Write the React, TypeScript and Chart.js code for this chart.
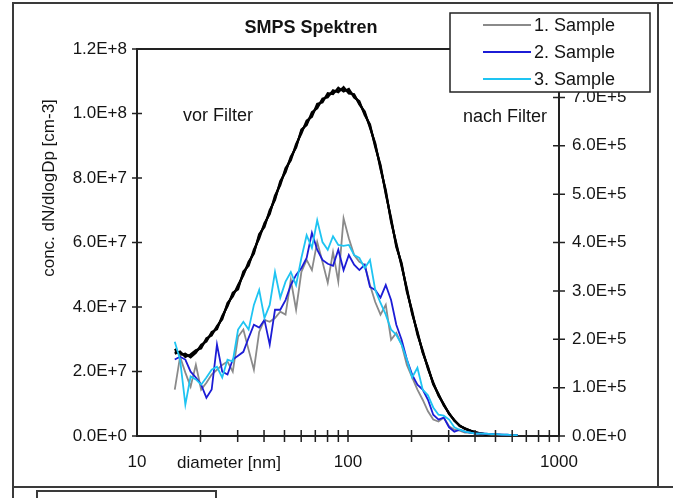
import { useEffect, useRef } from "react";
import { Chart, registerables } from "chart.js";

Chart.register(...registerables);

// ---- data ----
const diameters = [15.1, 16.0, 16.95, 17.95, 19.01, 20.14, 21.33, 22.59, 23.93, 25.35, 26.85, 28.44, 30.13, 31.92, 33.81, 35.81, 37.93, 40.18, 42.56, 45.08, 47.75, 50.58, 53.58, 56.75, 60.12, 63.68, 67.45, 71.45, 75.68, 80.17, 84.92, 89.95, 95.28, 100.9, 106.9, 113.2, 120.0, 127.1, 134.6, 142.6, 151.0, 160.0, 169.4, 179.5, 190.1, 201.4, 213.3, 225.9, 239.3, 253.5, 268.5, 284.4, 301.3, 319.2, 338.1, 358.1, 379.3, 401.8, 425.6, 450.8, 477.5, 505.8, 535.8, 567.5, 601.2, 636.8];

// "vor Filter" (left axis)
const vorFilter1 = [2.61e7, 2.58e7, 2.49e7, 2.49e7, 2.61e7, 2.77e7, 2.98e7, 3.17e7, 3.36e7, 3.67e7, 4.07e7, 4.38e7, 4.62e7, 5.03e7, 5.34e7, 5.71e7, 6.2e7, 6.54e7, 6.94e7, 7.38e7, 7.84e7, 8.24e7, 8.61e7, 8.99e7, 9.45e7, 9.7e7, 9.97e7, 10.22e7, 10.41e7, 10.56e7, 10.66e7, 10.72e7, 10.75e7, 10.69e7, 10.56e7, 10.32e7, 10.01e7, 9.6e7, 9.02e7, 8.34e7, 7.56e7, 6.7e7, 5.92e7, 5.3e7, 4.53e7, 3.82e7, 3.2e7, 2.61e7, 2.12e7, 1.62e7, 1.28e7, 0.97e7, 0.7e7, 0.48e7, 0.32e7, 0.23e7, 0.17e7, 0.11e7, 0.08e7, 0.05e7, 0.03e7, 0.03e7, 0.02e7, 0.01e7, 0.01e7, 0.01e7];
const vorFilter2 = [2.7e7, 2.52e7, 2.55e7, 2.44e7, 2.58e7, 2.83e7, 2.93e7, 3.22e7, 3.31e7, 3.72e7, 4.02e7, 4.44e7, 4.55e7, 5.1e7, 5.28e7, 5.78e7, 6.12e7, 6.6e7, 6.88e7, 7.45e7, 7.78e7, 8.3e7, 8.55e7, 9.05e7, 9.38e7, 9.78e7, 9.9e7, 10.3e7, 10.35e7, 10.63e7, 10.6e7, 10.8e7, 10.68e7, 10.76e7, 10.5e7, 10.38e7, 9.95e7, 9.66e7, 8.96e7, 8.4e7, 7.5e7, 6.76e7, 5.86e7, 5.36e7, 4.47e7, 3.88e7, 3.14e7, 2.66e7, 2.08e7, 1.66e7, 1.25e7, 0.99e7, 0.68e7, 0.5e7, 0.31e7, 0.24e7, 0.16e7, 0.12e7, 0.07e7, 0.05e7, 0.04e7, 0.03e7, 0.02e7, 0.02e7, 0.01e7, 0.01e7];
const vorFilter3 = [2.55e7, 2.62e7, 2.45e7, 2.53e7, 2.66e7, 2.72e7, 3.03e7, 3.12e7, 3.41e7, 3.62e7, 4.12e7, 4.33e7, 4.68e7, 4.98e7, 5.4e7, 5.66e7, 6.26e7, 6.48e7, 7.0e7, 7.32e7, 7.9e7, 8.18e7, 8.66e7, 8.94e7, 9.5e7, 9.64e7, 10.04e7, 10.16e7, 10.46e7, 10.5e7, 10.72e7, 10.66e7, 10.82e7, 10.62e7, 10.6e7, 10.28e7, 10.06e7, 9.56e7, 9.08e7, 8.28e7, 7.62e7, 6.64e7, 5.98e7, 5.26e7, 4.58e7, 3.78e7, 3.24e7, 2.58e7, 2.15e7, 1.6e7, 1.3e7, 0.95e7, 0.71e7, 0.47e7, 0.33e7, 0.22e7, 0.17e7, 0.1e7, 0.08e7, 0.05e7, 0.03e7, 0.02e7, 0.02e7, 0.01e7, 0.01e7, 0];

// "nach Filter" (right axis)
const sample1 = [0.96e5, 1.64e5, 1.31e5, 1.02e5, 1.47e5, 0.96e5, 1.1e5, 1.27e5, 1.37e5, 1.47e5, 1.54e5, 1.33e5, 2.05e5, 2.2e5, 1.78e5, 1.37e5, 2.15e5, 2.4e5, 2.36e5, 2.44e5, 2.57e5, 2.51e5, 3.23e5, 2.61e5, 3.39e5, 3.64e5, 3.43e5, 4.01e5, 3.6e5, 3.17e5, 3.8e5, 3.19e5, 4.5e5, 4.09e5, 3.74e5, 3.6e5, 3.54e5, 3.12e5, 2.77e5, 2.51e5, 2.71e5, 1.99e5, 2.13e5, 1.89e5, 1.47e5, 1.21e5, 0.96e5, 0.75e5, 0.51e5, 0.34e5, 0.3e5, 0.38e5, 0.2e5, 0.13e5, 0.11e5, 0.07e5, 0.07e5, 0.05e5, 0.05e5, 0.04e5, 0.03e5, 0.03e5, 0.03e5, 0.02e5, 0.02e5, 0.01e5];
const sample2 = [1.58e5, 1.64e5, 1.58e5, 1.33e5, 1.21e5, 1.06e5, 0.79e5, 0.96e5, 1.89e5, 1.33e5, 1.27e5, 1.58e5, 1.66e5, 1.74e5, 2.03e5, 2.3e5, 2.24e5, 2.4e5, 1.89e5, 2.61e5, 2.61e5, 2.81e5, 3.12e5, 3.33e5, 3.47e5, 3.68e5, 4.2e5, 3.85e5, 3.64e5, 3.56e5, 3.52e5, 3.85e5, 3.43e5, 3.74e5, 3.54e5, 3.43e5, 3.54e5, 3.08e5, 3.02e5, 2.86e5, 3.12e5, 2.81e5, 2.3e5, 1.99e5, 1.58e5, 1.27e5, 1.06e5, 0.96e5, 0.75e5, 0.44e5, 0.34e5, 0.38e5, 0.18e5, 0.09e5, 0.13e5, 0.09e5, 0.07e5, 0.05e5, 0.05e5, 0.05e5, 0.04e5, 0.04e5, 0.03e5, 0.03e5, 0.02e5, 0.01e5];
const sample3 = [1.95e5, 1.58e5, 0.65e5, 1.23e5, 1.17e5, 1.06e5, 1.21e5, 1.37e5, 1.43e5, 1.21e5, 1.58e5, 1.54e5, 2.2e5, 2.36e5, 2.2e5, 2.71e5, 3.02e5, 2.44e5, 2.71e5, 3.39e5, 2.86e5, 3.19e5, 3.39e5, 3.12e5, 3.68e5, 4.15e5, 3.89e5, 4.46e5, 4.01e5, 3.85e5, 4.13e5, 3.95e5, 3.93e5, 3.95e5, 3.74e5, 3.68e5, 3.47e5, 3.64e5, 3.02e5, 2.75e5, 2.51e5, 2.2e5, 2.09e5, 1.89e5, 1.58e5, 1.21e5, 1.41e5, 0.96e5, 0.84e5, 0.59e5, 0.44e5, 0.42e5, 0.34e5, 0.18e5, 0.13e5, 0.09e5, 0.07e5, 0.05e5, 0.05e5, 0.05e5, 0.04e5, 0.04e5, 0.03e5, 0.03e5, 0.02e5, 0.02e5];

const sampleLabels = ["1. Sample", "2. Sample", "3. Sample"];
const sampleColors = ["#8a8a8a", "#1c1cd6", "#1ec4f2"];
const xTickMarks = [20, 30, 40, 50, 60, 70, 80, 90, 100, 200, 300, 400, 500, 600, 700, 800, 900, 1000];
const xLabelValues = [10, 100, 1000];
const titleText = "SMPS Spektren";
const yTitleText = "conc. dN/dlogDp [cm-3]";
const xTitleText = "diameter [nm]";
const noteLeft = "vor Filter";
const noteRight = "nach Filter";

const FONT = '"Liberation Sans", Arial, Helvetica, sans-serif';
const TEXT = "#141414";
const AXIS = "#222";

function sci(v: number): string {
  if (v === 0) return "0.0E+0";
  const e = Math.floor(Math.log10(v) + 1e-9);
  const m = v / Math.pow(10, e);
  return m.toFixed(1) + "E+" + e;
}

const toPts = (arr: number[]) => diameters.map((d, i) => ({ x: d, y: arr[i] }));

const decor = {
  id: "decor",
  afterDraw(chart: any) {
    const ctx: CanvasRenderingContext2D = chart.ctx;
    const a = chart.chartArea;
    const sx = chart.scales.x;
    const sy = chart.scales.y;
    const sy1 = chart.scales.y1;
    ctx.save();

    // outer frame
    ctx.strokeStyle = "#3a3a3a";
    ctx.lineWidth = 2;
    ctx.beginPath();
    ctx.moveTo(13, 500); ctx.lineTo(13, 3); ctx.lineTo(673, 3);
    ctx.moveTo(658, 3); ctx.lineTo(658, 487);
    ctx.moveTo(13, 487); ctx.lineTo(673, 487);
    ctx.moveTo(37, 500); ctx.lineTo(37, 491); ctx.lineTo(216, 491); ctx.lineTo(216, 500);
    ctx.stroke();

    // plot top border
    ctx.strokeStyle = AXIS;
    ctx.beginPath();
    ctx.moveTo(a.left, a.top); ctx.lineTo(a.right, a.top);
    ctx.stroke();

    // crossing tick marks
    ctx.lineWidth = 1.5;
    ctx.beginPath();
    sy.ticks.forEach((t: any) => {
      const py = sy.getPixelForValue(t.value);
      ctx.moveTo(a.left - 5, py); ctx.lineTo(a.left + 5, py);
    });
    sy1.ticks.forEach((t: any) => {
      const py = sy1.getPixelForValue(t.value);
      ctx.moveTo(a.right - 6, py); ctx.lineTo(a.right + 6, py);
    });
    xTickMarks.forEach((v) => {
      const px = sx.getPixelForValue(v);
      ctx.moveTo(px, a.bottom - 6); ctx.lineTo(px, a.bottom + 6);
    });
    ctx.stroke();

    // texts
    ctx.fillStyle = TEXT;
    ctx.textBaseline = "middle";
    ctx.font = `bold 18px ${FONT}`;
    ctx.textAlign = "center";
    ctx.fillText(titleText, 311, 28);

    ctx.font = `18px ${FONT}`;
    ctx.textAlign = "left";
    ctx.fillText(noteLeft, 183, 116);
    ctx.fillText(noteRight, 463, 117);

    ctx.font = `17px ${FONT}`;
    ctx.fillText(xTitleText, 177, 463);

    ctx.save();
    ctx.translate(49, 188);
    ctx.rotate(-Math.PI / 2);
    ctx.textAlign = "center";
    ctx.fillText(yTitleText, 0, 0);
    ctx.restore();

    // legend
    ctx.fillStyle = "#fff";
    ctx.fillRect(450, 13, 200, 79);
    ctx.strokeStyle = "#222";
    ctx.lineWidth = 1.5;
    ctx.strokeRect(450, 13, 200, 79);
    const rows = [25, 52, 79];
    sampleLabels.forEach((lab, i) => {
      ctx.strokeStyle = sampleColors[i];
      ctx.lineWidth = 2;
      ctx.beginPath();
      ctx.moveTo(483, rows[i]); ctx.lineTo(531, rows[i]);
      ctx.stroke();
      ctx.fillStyle = TEXT;
      ctx.font = `18px ${FONT}`;
      ctx.textAlign = "left";
      ctx.fillText(lab, 534, rows[i] + 1);
    });

    ctx.restore();
  },
};

export default function App() {
  const ref = useRef<HTMLCanvasElement>(null);
  useEffect(() => {
    const canvas = ref.current;
    if (!canvas) return;
    const blackSets = [vorFilter1, vorFilter2, vorFilter3].map((arr, i) => ({
      label: "vor Filter " + (i + 1),
      data: toPts(arr),
      yAxisID: "y",
      borderColor: "#000",
      borderWidth: 2.2,
      pointRadius: 0,
      fill: false,
      tension: 0,
      order: 4,
    }));
    const colorSets = [sample1, sample2, sample3].map((arr, i) => ({
      label: sampleLabels[i],
      data: toPts(arr),
      yAxisID: "y1",
      borderColor: sampleColors[i],
      borderWidth: 1.8,
      pointRadius: 0,
      fill: false,
      tension: 0,
      order: 3 - i,
    }));
    const chart = new Chart(canvas, {
      type: "line",
      data: { datasets: [...colorSets, ...blackSets] as any },
      options: {
        responsive: false,
        animation: false,
        devicePixelRatio: 1,
        layout: { padding: { top: 49, left: 0, right: 0, bottom: 0 } },
        plugins: { legend: { display: false }, tooltip: { enabled: false }, title: { display: false } },
        scales: {
          x: {
            type: "logarithmic",
            position: "bottom",
            min: 10,
            max: 1000,
            grid: { display: false, drawTicks: false },
            border: { display: true, color: AXIS, width: 2 },
            ticks: {
              autoSkip: false,
              maxRotation: 0,
              padding: 16,
              color: TEXT,
              font: { family: FONT, size: 17 },
              callback: (v: any) => (xLabelValues.includes(Number(v)) ? String(v) : ""),
            },
            afterFit: (s: any) => { s.height = 62; },
          },
          y: {
            type: "linear",
            position: "left",
            min: 0,
            max: 1.2e8,
            grid: { display: false, drawTicks: false },
            border: { display: true, color: AXIS, width: 2 },
            ticks: {
              stepSize: 2e7,
              padding: 10,
              color: TEXT,
              font: { family: FONT, size: 17 },
              callback: (v: any) => sci(Number(v)),
            },
            afterFit: (s: any) => { s.width = 137; },
          },
          y1: {
            type: "linear",
            position: "right",
            min: 0,
            max: 8e5,
            grid: { display: false, drawTicks: false },
            border: { display: true, color: AXIS, width: 2 },
            ticks: {
              stepSize: 1e5,
              padding: 13,
              color: TEXT,
              font: { family: FONT, size: 17 },
              callback: (v: any) => (Number(v) >= 8e5 ? "" : sci(Number(v))),
            },
            afterFit: (s: any) => { s.width = 114; },
          },
        },
      } as any,
      plugins: [decor],
    });
    return () => chart.destroy();
  }, []);
  return (
    <div style={{ position: "fixed", left: 0, top: 0, width: 673, height: 498, background: "#fff" }}>
      <canvas ref={ref} width={673} height={498} style={{ display: "block", width: 673, height: 498 }} />
    </div>
  );
}
